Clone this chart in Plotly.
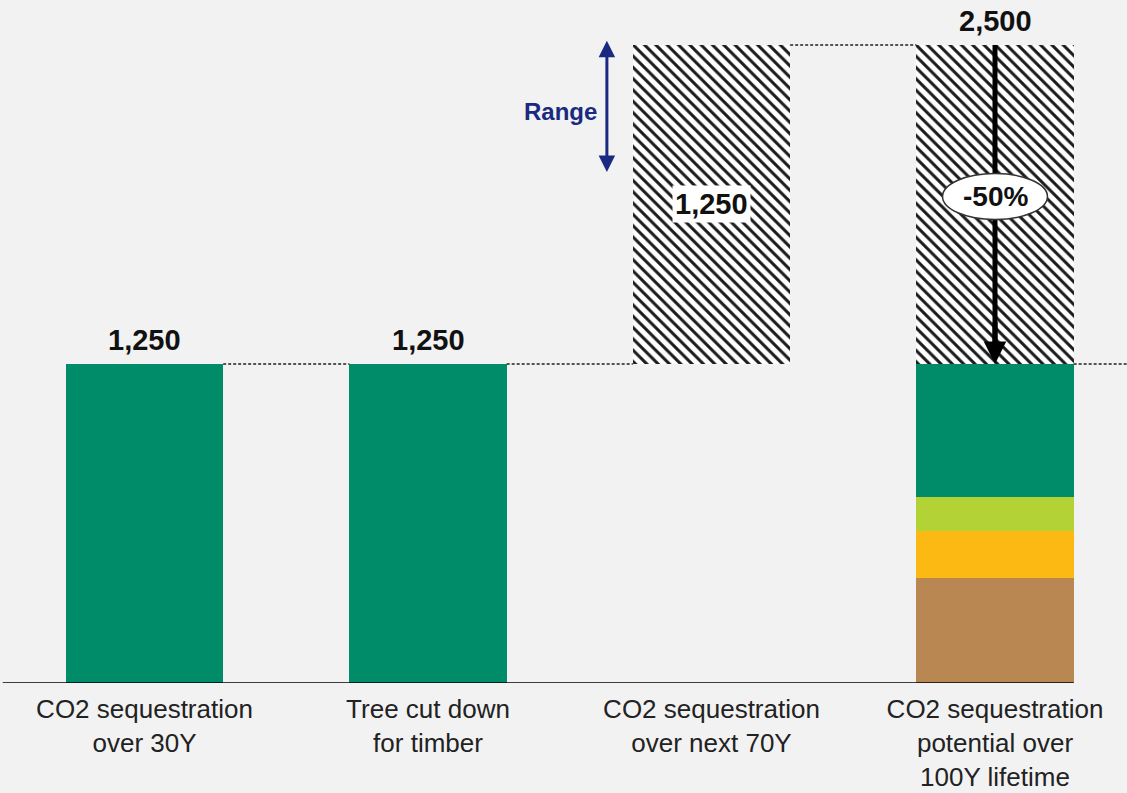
import numpy as np
import plotly.graph_objects as go

categories = ["CO2 sequestration<br>over 30Y", "Tree cut down<br>for timber",
              "CO2 sequestration<br>over next 70Y",
              "CO2 sequestration<br>potential over<br>100Y lifetime"]
green_co2 = [1250, 1250, 0, 0]
range_base = [0, 0, 1250, 1250]
range_co2 = [0, 0, 1250, 1250]
# breakdown of the last bar, bottom to top
parts = [410, 187, 130, 523]
part_colors = ["#B98752", "#FDB913", "#B2D235", "#008C69"]
total = 2500
change_pct = -50

green = "#008C69"
navy = "#1A2A80"
hw = 0.555 / 2
bg = "#F2F2F2"

fig = go.Figure()

fig.add_trace(go.Bar(x=categories[:2], y=green_co2[:2], width=0.555,
                     marker=dict(color=green, line=dict(width=0))))

bases = np.concatenate([[0], np.cumsum(parts)[:-1]])
for v, b, c in zip(parts, bases, part_colors):
    fig.add_trace(go.Bar(x=[categories[3]], y=[v], base=[b], width=0.555,
                         marker=dict(color=c, line=dict(width=0))))

fig.add_trace(go.Bar(x=categories[2:], y=range_co2[2:], base=range_base[2:], width=0.555,
                     marker=dict(color="white", line=dict(width=0),
                                 pattern=dict(shape="\\", fgcolor="#1a1a1a", bgcolor="white",
                                              fgopacity=1, size=8, solidity=0.38))))

dash = dict(color="#222222", width=1.5, dash="3px,2px")
shapes = [
    dict(type="line", x0=0 + hw, x1=1 - hw, y0=1250, y1=1250, line=dash),
    dict(type="line", x0=1 + hw, x1=2 - hw, y0=1250, y1=1250, line=dash),
    dict(type="line", x0=2 + hw, x1=3 - hw, y0=total, y1=total, line=dash),
    dict(type="line", x0=3 + hw, x1=3.47, y0=1250, y1=1250, line=dash),
    dict(type="line", x0=-0.5, x1=3 + hw, y0=0, y1=0, line=dict(color="black", width=1.5)),
    dict(type="line", x0=3 + hw, x1=3.47, y0=-8, y1=-8,
         line=dict(color="black", width=2, dash="dot")),
    dict(type="line", x0=3, x1=3, y0=total, y1=1330, line=dict(color="black", width=5)),
    dict(type="circle", x0=3 - 0.185, x1=3 + 0.185, y0=1816, y1=1996,
         fillcolor="white", line=dict(color="#333333", width=1.5)),
]
for s in shapes:
    s.update(xref="x", yref="y", layer="above")
fig.update_layout(shapes=shapes)

lab = dict(family="Liberation Sans, Arial", size=29, color="#111111")
for i in range(2):
    fig.add_annotation(x=i, y=green_co2[i], text="<b>%s</b>" % f"{green_co2[i]:,}",
                       showarrow=False, yanchor="bottom", yshift=6, font=lab)
fig.add_annotation(x=3, y=total, text="<b>%s</b>" % f"{total:,}",
                   showarrow=False, yanchor="bottom", yshift=6, font=lab)
fig.add_annotation(x=2, y=range_base[2] + range_co2[2] / 2, text="<b>%s</b>" % f"{range_co2[2]:,}",
                   showarrow=False, font=lab, bgcolor="white", borderpad=2)
fig.add_annotation(x=3, y=1906, text="<b>%d%%</b>" % change_pct, showarrow=False,
                   font=dict(family="Liberation Sans, Arial", size=28, color="#111111"))
# arrow head of the -50% arrow
fig.add_annotation(x=3, y=1250, ax=3, ay=1420, xref="x", yref="y", axref="x", ayref="y",
                   text="", showarrow=True, arrowhead=2, arrowsize=0.9, arrowwidth=5,
                   arrowcolor="black", standoff=0)
# range arrow
fig.add_annotation(x=1.631, y=2516, ax=1.631, ay=1996, xref="x", yref="y", axref="x", ayref="y",
                   text="", showarrow=True, arrowhead=2, arrowside="end+start", arrowsize=1.1,
                   arrowwidth=3, arrowcolor=navy, standoff=0, startstandoff=0)
fig.add_annotation(x=1.466, y=2238, text="<b>Range</b>", showarrow=False,
                   font=dict(family="Liberation Sans, Arial", size=24, color=navy))

fig.update_layout(
    width=1127, height=793,
    margin=dict(l=0, r=0, t=0, b=110),
    paper_bgcolor=bg, plot_bgcolor=bg,
    barmode="overlay", showlegend=False, bargap=0,
    xaxis=dict(type="category", categoryorder="array", categoryarray=categories,
               range=[-0.5097, 3.4656], showgrid=False, zeroline=False,
               showline=False, ticks="", ticklabelstandoff=8, automargin=False,
               tickfont=dict(family="Liberation Sans, Arial", size=26, color="#222222")),
    yaxis=dict(range=[0, 2676], visible=False, automargin=False),
)

fig.write_html("out.html", config={"displayModeBar": False},
               post_script="document.body.style.margin='0';")
